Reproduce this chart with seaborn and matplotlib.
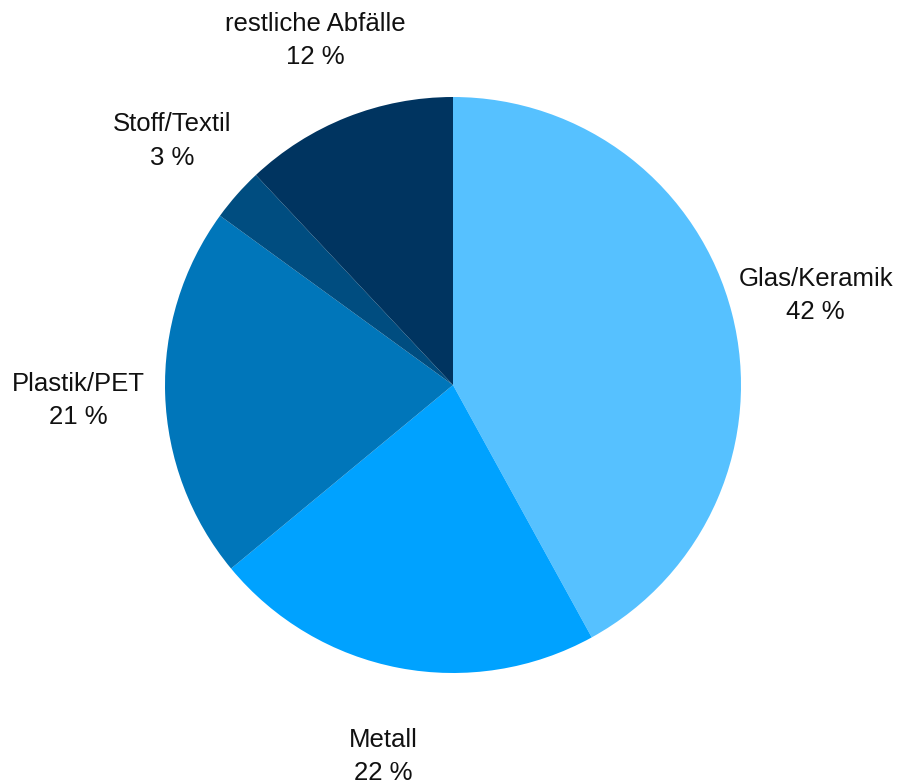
import matplotlib
matplotlib.use("Agg")
import matplotlib.pyplot as plt
import matplotlib.transforms as mtransforms
import seaborn as sns

categories = ["Glas/Keramik", "Metall", "Plastik/PET", "Stoff/Textil", "restliche Abfälle"]
shares = [42, 22, 21, 3, 12]
colors = ["#56C1FF", "#00A2FF", "#0076BA", "#004D80", "#003460"]

sns.set_style("white")
plt.rcParams["font.family"] = ["Liberation Sans", "DejaVu Sans"]
palette = sns.color_palette(colors)

fig = plt.figure(figsize=(8.98, 7.83), dpi=100)
ax = fig.add_axes([165 / 898, 110 / 783, 576 / 898, 576 / 783])

labels = [f"{c}\n{v} %" for c, v in zip(categories, shares)]
wedges, texts = ax.pie(
    shares,
    labels=labels,
    colors=palette,
    startangle=90,
    counterclock=False,
    labeldistance=1.3,
    radius=1.0,
    wedgeprops=dict(linewidth=0),
    textprops=dict(fontsize=18.5, color="#111111", linespacing=1.5),
)
# centre each two-line label on its anchor, nudged slightly to balance the descenders
for t in texts:
    t.set_ha("center")
    t.set_va("center")
    t.set_transform(mtransforms.offset_copy(t.get_transform(), fig=fig, y=-3.5, units="dots"))

ax.set_xlim(-1, 1)
ax.set_ylim(-1, 1)
ax.set_aspect("equal")
ax.axis("off")

fig.savefig("out.png", dpi=100)
